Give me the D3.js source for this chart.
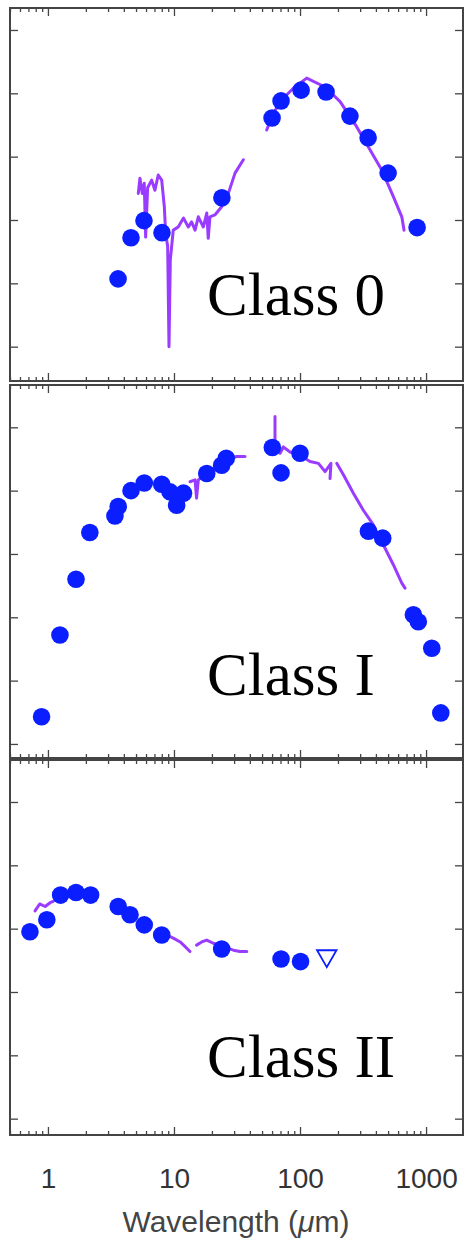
<!DOCTYPE html>
<html>
<head>
<meta charset="utf-8">
<script src="https://cdn.jsdelivr.net/npm/d3@7"></script>
<style>
body { margin: 0; background: #fff; }
</style>
</head>
<body>
<div id="chart"></div>
<script>
// chart values (wavelength in micron, flux in log decades, arbitrary zero per panel)
var xTicks = [1, 10, 100, 1000]
var yTicks = [0, 1, 2, 3, 4, 5]
var classLabels = ["Class 0", "Class I", "Class II"]

var class0Phot = [[3.6, 1.07], [4.56, 1.72], [5.78, 1.99], [8.03, 1.80], [24.0, 2.35],
    [60, 3.61], [70.7, 3.88], [102, 4.05], [161, 4.02], [249, 3.64], [347, 3.30], [500, 2.74], [849, 1.88]]
var class0Spec = [
    [[5.21, 2.42], [5.37, 2.66], [5.60, 2.42], [5.81, 2.58], [5.96, 1.73], [6.18, 2.51], [6.65, 2.63],
     [7.06, 2.47], [7.50, 2.71], [7.99, 2.63], [8.38, 2.21], [8.59, 1.79], [8.91, 1.58], [9.13, 0.0],
     [9.35, 1.37], [9.87, 1.84], [10.8, 1.89], [11.9, 2.03], [13.0, 1.89], [13.8, 1.97], [14.7, 1.84],
     [15.6, 2.05], [17.1, 1.89], [18.2, 2.11], [18.7, 1.71], [19.3, 2.05], [21.1, 2.08], [23.9, 2.21],
     [27.0, 2.42], [30.5, 2.74], [35.5, 2.95]],
    [[54.4, 3.42], [59.6, 3.63], [69.4, 3.87], [88.5, 4.08], [113, 4.24], [158, 4.10], [208, 3.87],
     [282, 3.47], [359, 3.11], [445, 2.79], [550, 2.37], [642, 2.05], [669, 1.84]]
]

var class1Phot = [[0.89, 0.43], [1.245, 1.72], [1.67, 2.60], [2.15, 3.34], [3.40, 3.60], [3.61, 3.75],
    [4.56, 4.0], [5.81, 4.12], [7.99, 4.10], [9.30, 3.98], [10.5, 3.77], [11.9, 3.96], [18.2, 4.27],
    [23.9, 4.40], [26, 4.51], [60.3, 4.68], [70.7, 4.28], [100, 4.59], [349, 3.36], [453, 3.25],
    [793, 2.04], [868, 1.93], [1110, 1.51], [1309, 0.49]]
var class1Spec = [
    [[13.4, 4.14], [14.7, 4.17], [15.1, 3.88], [15.6, 4.17], [17.6, 4.25], [21.8, 4.38], [27.8, 4.51],
     [31.4, 4.54], [36.6, 4.54]],
    [[63.3, 5.17], [63.3, 4.69], [69.4, 4.59], [73.7, 4.69], [83.3, 4.61], [100, 4.56], [120, 4.46],
     [140, 4.43], [158, 4.30], [176, 4.43], [173, 4.19]],
    [[196, 4.43], [221, 4.25], [265, 3.96], [318, 3.69], [382, 3.46], [406, 3.35], [473, 3.09],
     [550, 2.83], [642, 2.54], [681, 2.46]]
]

var class2Phot = [[0.72, 2.95], [0.98, 3.14], [1.26, 3.53], [1.67, 3.57], [2.18, 3.53], [3.61, 3.35],
    [4.48, 3.22], [5.81, 3.06], [7.99, 2.90], [23.9, 2.68], [70.7, 2.52], [101, 2.48]]
var class2Limits = [[163, 2.57]]
var class2Spec = [
    [[0.79, 3.28], [0.86, 3.39], [0.95, 3.35], [1.04, 3.41], [1.10, 3.43]],
    [[8.75, 2.90], [9.87, 2.85], [11.2, 2.79], [12.2, 2.72], [13.4, 2.64]],
    [[15.1, 2.74], [16.6, 2.79], [18.2, 2.82], [20.5, 2.77], [29.6, 2.66], [33.4, 2.64], [37.8, 2.64]]
]

var width = 464
var height = 1241
var blue = "#0a1eff"
var purple = "#9a3cff"

var svg = d3.select("#chart")
    .append("svg")
    .attr("width", width)
    .attr("height", height)

var x = d3.scaleLog().domain([0.5, 2000]).range([10, 464])

var minorTicks = x.ticks().filter(d => xTicks.indexOf(d) < 0)

// panel boxes
var panels = [
    { label: classLabels[0], phot: class0Phot, spec: class0Spec, limits: [], top: 8, bottom: 381, yDomain: [-0.542, 5.347], labelY: 315 },
    { label: classLabels[1], phot: class1Phot, spec: class1Spec, limits: [], top: 385, bottom: 758, yDomain: [-0.222, 5.668], labelY: 695 },
    { label: classLabels[2], phot: class2Phot, spec: class2Spec, limits: class2Limits, top: 760, bottom: 1135, yDomain: [-0.258, 5.663], labelY: 1077 }
]

var line = d3.line()

panels.forEach(function(p, i) {
    var y = d3.scaleLinear().domain(p.yDomain).range([p.bottom, p.top])
    var g = svg.append("g")

    line.x(d => x(d[0])).y(d => y(d[1]))

    // spectra
    g.selectAll(".spec")
        .data(p.spec)
        .enter()
        .append("path")
        .attr("d", line)
        .attr("fill", "none")
        .attr("stroke", purple)
        .attr("stroke-width", 3)
        .attr("stroke-linejoin", "round")
        .attr("stroke-linecap", "round")

    // photometry
    g.selectAll(".dot")
        .data(p.phot)
        .enter()
        .append("circle")
        .attr("cx", d => x(d[0]))
        .attr("cy", d => y(d[1]))
        .attr("r", 8.8)
        .style("fill", blue)

    // upper limits
    g.selectAll(".lim")
        .data(p.limits)
        .enter()
        .append("path")
        .attr("d", d3.symbol(d3.symbolTriangle).size(165))
        .attr("transform", d => "translate(" + x(d[0]) + "," + y(d[1]) + ") rotate(180)")
        .attr("fill", "#fff")
        .attr("stroke", blue)
        .attr("stroke-width", 1.8)

    // inward ticks
    var ax = function(sel) { sel.select(".domain").remove(); sel.selectAll("line").attr("stroke", "#444").attr("stroke-width", 1.3) }
    g.append("g").attr("transform", "translate(0," + p.top + ")")
        .call(d3.axisTop(x).tickValues(xTicks).tickSize(-8).tickFormat("")).call(ax)
    g.append("g").attr("transform", "translate(0," + p.top + ")")
        .call(d3.axisTop(x).tickValues(minorTicks).tickSize(-4).tickFormat("")).call(ax)
    g.append("g").attr("transform", "translate(0," + p.bottom + ")")
        .call(d3.axisBottom(x).tickValues(xTicks).tickSize(-8).tickFormat("")).call(ax)
    g.append("g").attr("transform", "translate(0," + p.bottom + ")")
        .call(d3.axisBottom(x).tickValues(minorTicks).tickSize(-4).tickFormat("")).call(ax)
    g.append("g").attr("transform", "translate(10,0)")
        .call(d3.axisLeft(y).tickValues(yTicks).tickSize(-8).tickFormat("")).call(ax)
    g.append("g").attr("transform", "translate(463,0)")
        .call(d3.axisRight(y).tickValues(yTicks).tickSize(-8).tickFormat("")).call(ax)

    g.append("rect")
        .attr("x", 10)
        .attr("y", p.top)
        .attr("width", 453)
        .attr("height", p.bottom - p.top)
        .attr("fill", "none")
        .attr("stroke", "#444")
        .attr("stroke-width", 2)

    g.append("text")
        .attr("x", 207)
        .attr("y", p.labelY)
        .attr("font-family", "'Liberation Serif', 'Times New Roman', serif")
        .attr("font-size", 61)
        .attr("fill", "#000")
        .text(p.label)

    // tick labels only under the last panel
    if (i == panels.length - 1) {
        var labs = svg.append("g")
            .attr("transform", "translate(0," + p.bottom + ")")
            .call(d3.axisBottom(x).tickValues(xTicks).tickSize(0).tickPadding(33).tickFormat(d3.format("d")))
        labs.select(".domain").remove()
        labs.selectAll("text")
            .attr("font-family", "'Liberation Sans', Arial, sans-serif")
            .attr("font-size", 28)
            .attr("fill", "#333")
    }
})

var title = svg.append("text")
    .attr("x", 236)
    .attr("y", 1232)
    .attr("text-anchor", "middle")
    .attr("font-family", "'Liberation Sans', Arial, sans-serif")
    .attr("font-size", 30)
    .attr("fill", "#444")
title.append("tspan").text("Wavelength (")
title.append("tspan").attr("font-style", "italic").text("\u03bc")
title.append("tspan").text("m)")
</script>
</body>
</html>
